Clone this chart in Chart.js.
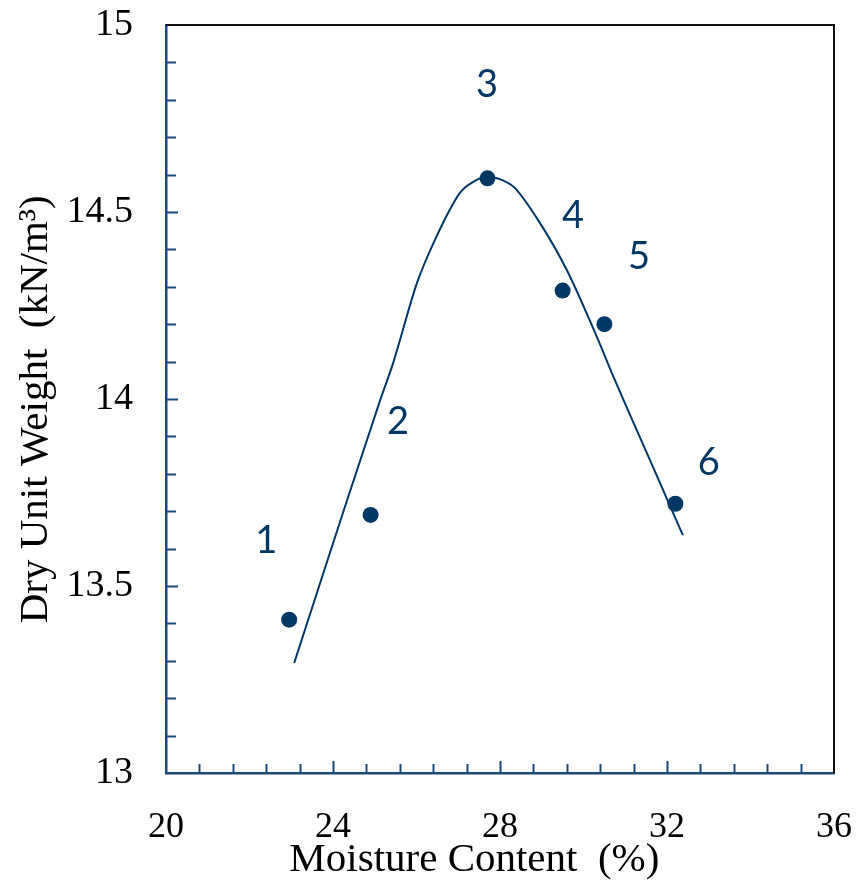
<!DOCTYPE html>
<html><head><meta charset="utf-8">
<script src="https://cdn.jsdelivr.net/npm/chart.js@4/dist/chart.umd.min.js"></script>
<style>html,body{margin:0;padding:0;background:#fff;}#wrap{width:857px;height:885px;}</style>
</head><body><div id="wrap"><canvas id="c" width="857" height="885"></canvas></div>
<script>
// ---- data ----
const pointMoisture = [22.95, 24.9, 27.7, 29.5, 30.5, 32.2];
const pointDensity  = [13.41, 13.69, 14.59, 14.29, 14.20, 13.72];
const pointNames    = ['1', '2', '3', '4', '5', '6'];
const labelMoisture = [22.4, 25.56, 27.69, 29.75, 31.33, 33.0];
const labelDensity  = [13.62, 13.94, 14.84, 14.49, 14.38, 13.83];
const curveMoisture = [23.07, 24.19, 25.13, 25.44, 26.01, 26.44, 27.04, 27.35, 27.71, 28.19, 28.36, 28.91, 29.60, 30.32, 30.75, 31.59, 32.38];
const curveDensity  = [13.294, 13.679, 13.997, 14.096, 14.31, 14.425, 14.551, 14.58, 14.594, 14.578, 14.564, 14.479, 14.345, 14.166, 14.051, 13.837, 13.636];
const xTicks = [20, 24, 28, 32, 36];
const yTicks = [13, 13.5, 14, 14.5, 15];
const xMinorStep = 0.8;
const yMinorStep = 0.1;

const BLUE = '#003865';
const AXIS = '#1b4a78';

const toXY = (xs, ys) => xs.map((x, i) => ({x: x, y: ys[i]}));

const framePlugin = {
  id: 'frame',
  afterDraw(chart) {
    const {ctx, chartArea: a, scales: {x, y}} = chart;
    ctx.save();
    // top & right border
    ctx.strokeStyle = '#111';
    ctx.lineWidth = 2;
    ctx.beginPath();
    ctx.moveTo(a.left, a.top); ctx.lineTo(a.right, a.top); ctx.lineTo(a.right, a.bottom);
    ctx.stroke();
    // inward ticks
    ctx.strokeStyle = AXIS;
    ctx.lineWidth = 2;
    ctx.beginPath();
    const xn = Math.round((x.max - x.min) / xMinorStep);
    for (let i = 1; i < xn; i++) {
      const v = x.min + i * xMinorStep;
      const major = xTicks.some(t => Math.abs(t - v) < 1e-6);
      const px = Math.round(x.getPixelForValue(v)) + 0.5;
      ctx.moveTo(px, a.bottom); ctx.lineTo(px, a.bottom - (major ? 12 : 9));
    }
    const yn = Math.round((y.max - y.min) / yMinorStep);
    for (let i = 1; i < yn; i++) {
      const v = y.min + i * yMinorStep;
      const major = yTicks.some(t => Math.abs(t - v) < 1e-6);
      const py = Math.round(y.getPixelForValue(v)) + 0.5;
      ctx.moveTo(a.left, py); ctx.lineTo(a.left + (major ? 12 : 10), py);
    }
    ctx.stroke();
    // point labels
    ctx.fillStyle = BLUE;
    ctx.font = '38px Lato';
    ctx.textAlign = 'center';
    ctx.textBaseline = 'middle';
    pointNames.forEach((n, i) => {
      ctx.fillText(n, x.getPixelForValue(labelMoisture[i]), y.getPixelForValue(labelDensity[i]));
    });
    ctx.restore();
  }
};

new Chart(document.getElementById('c'), {
  type: 'scatter',
  data: {
    datasets: [
      {
        data: toXY(curveMoisture, curveDensity),
        showLine: true, borderColor: BLUE, borderWidth: 2, pointRadius: 0,
        cubicInterpolationMode: 'monotone', fill: false, order: 2
      },
      {
        data: toXY(pointMoisture, pointDensity),
        showLine: false, pointRadius: 8, pointBackgroundColor: BLUE, pointBorderColor: BLUE,
        pointBorderWidth: 0, order: 1
      }
    ]
  },
  options: {
    responsive: false, animation: false, events: [],
    layout: {padding: {top: 25, right: 23, left: 0, bottom: 0}},
    plugins: {legend: {display: false}, tooltip: {enabled: false}},
    scales: {
      x: {
        type: 'linear', min: 20, max: 36,
        afterBuildTicks: s => { s.ticks = xTicks.map(v => ({value: v})); },
        afterFit: s => { s.height = 112; s.paddingLeft = 0; s.paddingRight = 0; },
        grid: {display: false, drawTicks: false},
        border: {display: true, color: AXIS, width: 2.5},
        ticks: {color: '#000', padding: 33, maxRotation: 0, font: {family: 'Liberation Serif', size: 36}},
        title: {display: true, text: 'Moisture Content  (%)     ', color: '#000', padding: {top: 0, bottom: 0},
                font: {family: 'Liberation Serif', size: 41}}
      },
      y: {
        type: 'linear', min: 13, max: 15,
        afterBuildTicks: s => { s.ticks = yTicks.map(v => ({value: v})); },
        afterFit: s => { s.width = 166; s.paddingTop = 0; s.paddingBottom = 0; },
        grid: {display: false, drawTicks: false},
        border: {display: true, color: AXIS, width: 2.5},
        ticks: {color: '#000', padding: 33, font: {family: 'Liberation Serif', size: 38},
                callback: v => String(v)},
        title: {display: true, text: 'Dry Unit Weight  (kN/m³)  ', color: '#000', padding: {top: 12, bottom: 0},
                font: {family: 'Liberation Serif', size: 41}}
      }
    }
  },
  plugins: [framePlugin]
});
</script>
</body></html>
